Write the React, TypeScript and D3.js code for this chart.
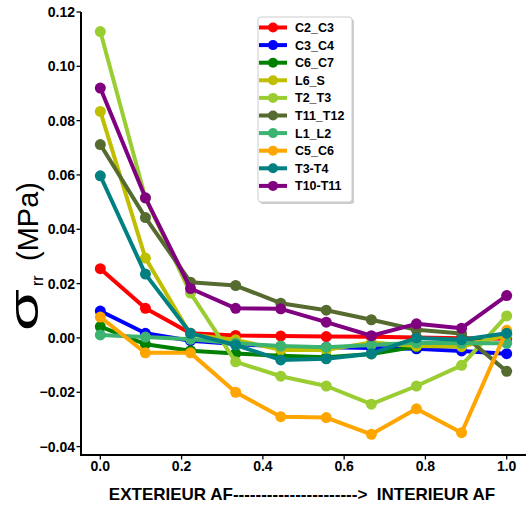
import React from "react";
import * as d3 from "d3";

const xPositions = [0, 0.111, 0.222, 0.333, 0.444, 0.556, 0.667, 0.778, 0.889, 1.0];
const seriesNames = ["C2_C3", "C3_C4", "C6_C7", "L6_S", "T2_T3", "T11_T12", "L1_L2", "C5_C6", "T3-T4", "T10-T11"];
const seriesColors = ["#ff0000", "#0000ff", "#008000", "#bfbf00", "#9acd32", "#556b2f", "#3cb371", "#ffa500", "#008080", "#800080"];
const C2_C3 = [0.0255, 0.0109, 0.0017, 0.0009, 0.0007, 0.0005, 0.0004, 0.0002, -0.0001, -0.0003];
const C3_C4 = [0.0099, 0.0017, -0.001, -0.0022, -0.0032, -0.0034, -0.0037, -0.004, -0.0048, -0.0058];
const C6_C7 = [0.0042, -0.0023, -0.0047, -0.0057, -0.0066, -0.0071, -0.0059, -0.0032, -0.0008, 0.0012];
const L6_S = [0.0834, 0.0294, 0.0012, -0.0007, -0.0044, -0.0044, -0.0017, -0.003, -0.0032, 0.001];
const T2_T3 = [0.1128, 0.0515, 0.0165, -0.0088, -0.0141, -0.0177, -0.0244, -0.0177, -0.0101, 0.0081];
const T11_T12 = [0.0712, 0.0443, 0.0205, 0.0193, 0.0128, 0.0102, 0.0067, 0.003, 0.0016, -0.0123];
const L1_L2 = [0.0011, 0.0003, -0.0005, -0.002, -0.003, -0.0034, -0.0026, -0.0018, -0.002, -0.002];
const C5_C6 = [0.0077, -0.0055, -0.0055, -0.02, -0.029, -0.0293, -0.0355, -0.0261, -0.0349, 0.0028];
const T3_T4 = [0.0597, 0.0235, 0.0017, -0.0026, -0.0081, -0.0077, -0.0058, 0.0, -0.0007, 0.0017];
const T10_T11 = [0.092, 0.0516, 0.0182, 0.0109, 0.0107, 0.0058, 0.0008, 0.0052, 0.0036, 0.0156];
const seriesValues = [C2_C3, C3_C4, C6_C7, L6_S, T2_T3, T11_T12, L1_L2, C5_C6, T3_T4, T10_T11];
const yTicks = [-0.04, -0.02, 0.0, 0.02, 0.04, 0.06, 0.08, 0.1, 0.12];
const xTicks = [0.0, 0.2, 0.4, 0.6, 0.8, 1.0];
const xLabel = "EXTERIEUR AF---------------------->  INTERIEUR AF";

const W = 526, H = 508;
const left = 81, right = 527, top = 12, bottom = 455;
const FONT = "'Liberation Sans', Arial, sans-serif";

export default function App() {
  const x = d3.scaleLinear().domain([-0.05, 1.05]).range([left - 1, right]);
  const y = d3.scaleLinear().domain([-0.0431, 0.12]).range([bottom, top]);
  const line = d3.line<number>().x((_, i) => x(xPositions[i])).y((d) => y(d));
  const fy = d3.format(".2f");
  const fx = d3.format(".1f");
  const legX = 258, legY = 17, legW = 94, legH = 185, legStep = 17.6;
  return (
    <svg width={W} height={H} style={{ position: "absolute", left: 0, top: 0 }} fontFamily={FONT}>
      <rect width={W} height={H} fill="#fff" />
      {seriesValues.map((vals, si) => (
        <g key={si}>
          <path d={line(vals) || ""} fill="none" stroke={seriesColors[si]} strokeWidth={4} strokeLinejoin="round" />
          {vals.map((v, i) => (
            <circle key={i} cx={x(xPositions[i])} cy={y(v)} r={5.5} fill={seriesColors[si]} />
          ))}
        </g>
      ))}
      {/* axes */}
      <line x1={left} x2={left} y1={top} y2={bottom + 1} stroke="#000" strokeWidth={2} />
      <line x1={left - 1} x2={W} y1={bottom} y2={bottom} stroke="#000" strokeWidth={2} />
      {yTicks.map((t) => (
        <g key={t}>
          <line x1={left - 4.5} x2={left} y1={y(t)} y2={y(t)} stroke="#000" strokeWidth={1.3} />
          <text x={left - 6} y={y(t) + 5} textAnchor="end" fontSize={14} fontWeight="bold">{fy(t)}</text>
        </g>
      ))}
      {xTicks.map((t) => (
        <g key={t}>
          <line x1={x(t)} x2={x(t)} y1={bottom} y2={bottom + 4.5} stroke="#000" strokeWidth={1.3} />
          <text x={x(t)} y={471} textAnchor="middle" fontSize={14} fontWeight="bold">{fx(t)}</text>
        </g>
      ))}
      <text x={302} y={500} textAnchor="middle" fontSize={17} fontWeight="bold" style={{ whiteSpace: "pre" }}>{xLabel}</text>
      {/* y label */}
      <g transform="translate(38,331) rotate(-90)">
        <text x={0} y={0} fontSize={40} textLength={42} lengthAdjust="spacingAndGlyphs">σ</text>
        <text x={45} y={5} fontSize={16}>rr</text>
        <text x={70} y={0} fontSize={29}>(MPa)</text>
      </g>
      {/* legend */}
      <rect x={legX + 2} y={legY + 2} width={legW} height={legH} rx={3} fill="#999" opacity={0.5} />
      <rect x={legX} y={legY} width={legW} height={legH} rx={3} fill="#fff" stroke="#cccccc" strokeWidth={1} />
      {seriesNames.map((n, i) => {
        const cy = legY + 10.5 + i * legStep;
        return (
          <g key={n}>
            <line x1={legX + 1} x2={legX + 29} y1={cy} y2={cy} stroke={seriesColors[i]} strokeWidth={4} />
            <circle cx={legX + 15} cy={cy} r={5} fill={seriesColors[i]} />
            <text x={legX + 37} y={cy + 4.5} fontSize={12.5} fontWeight="bold">{n}</text>
          </g>
        );
      })}
    </svg>
  );
}
